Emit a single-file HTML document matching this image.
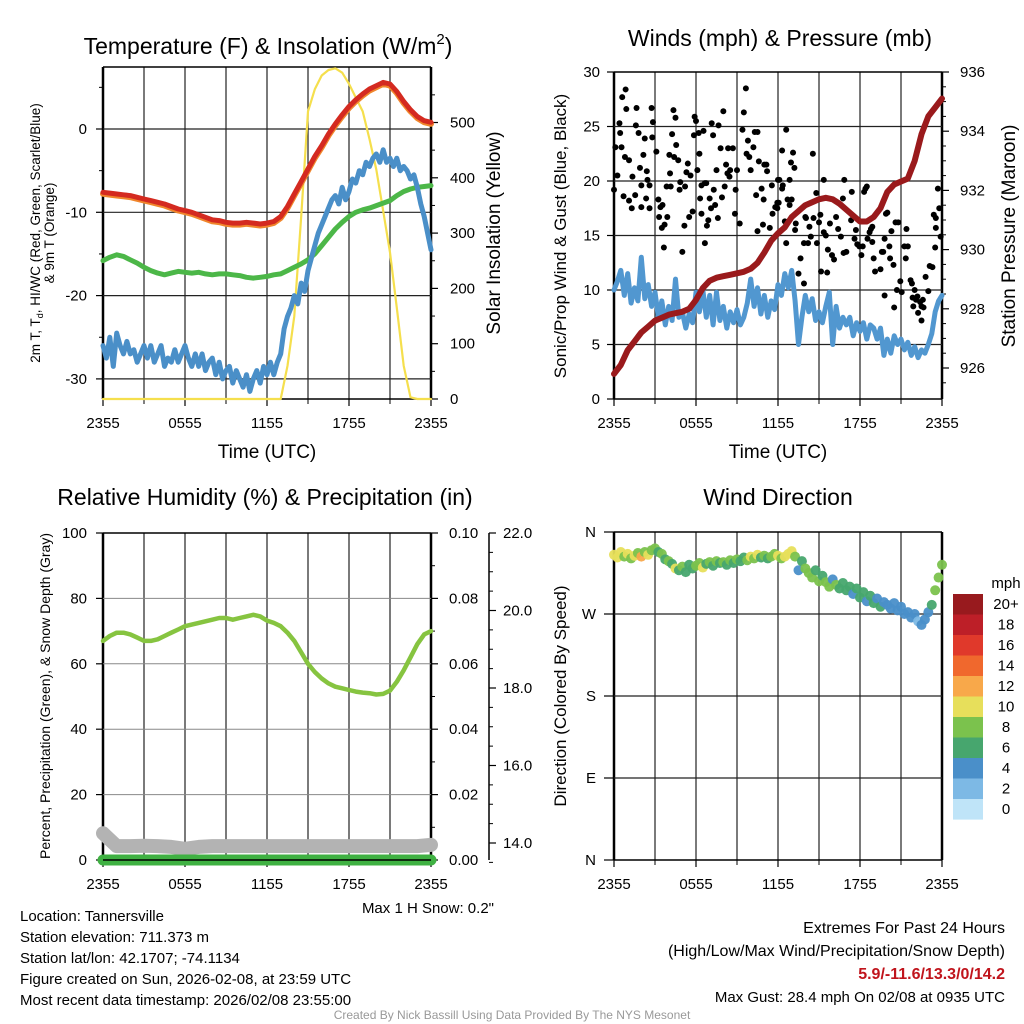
<!DOCTYPE html>
<html><head><meta charset="utf-8"><style>
body{margin:0;background:#fff;}
svg{display:block;font-family:"Liberation Sans",sans-serif;}
</style></head><body>
<svg id="c" width="1024" height="1024" viewBox="0 0 1024 1024"></svg>
<script>
const tickHours=[0,6,12,18,24];
const tickLabels=["2355","0555","1155","1755","2355"];
const airTemp=[-7.6,-7.7,-7.8,-7.9,-8.0,-8.2,-8.4,-8.6,-8.8,-9.0,-9.3,-9.6,-9.8,-10.0,-10.3,-10.6,-10.9,-11.0,-11.2,-11.3,-11.3,-11.2,-11.3,-11.4,-11.3,-11.1,-10.5,-9.3,-7.8,-6.3,-4.8,-3.3,-2.0,-0.6,0.6,1.7,2.7,3.5,4.2,4.8,5.2,5.6,5.4,4.5,3.3,2.3,1.5,1.0,0.8];
const hiwc=[-15.8,-15.4,-15.1,-15.3,-15.7,-16.1,-16.6,-17.0,-17.3,-17.5,-17.3,-17.1,-17.2,-17.3,-17.2,-17.4,-17.5,-17.4,-17.4,-17.5,-17.6,-17.8,-17.9,-17.8,-17.7,-17.5,-17.4,-17.0,-16.6,-16.2,-15.7,-15.0,-14.0,-13.0,-12.0,-11.2,-10.5,-10.0,-9.7,-9.5,-9.2,-8.9,-8.6,-8.0,-7.5,-7.2,-7.0,-6.9,-6.8];
const dewpoint=[-26,-27.5,-25,-28.5,-24.5,-26,-27,-25.5,-27,-26.5,-28,-27,-26,-27.5,-26,-28,-27,-26,-28.5,-27.5,-28,-26.5,-28,-27,-26,-27.5,-28.5,-27,-28.5,-27,-29,-28,-27.5,-29.5,-28,-30,-29,-28.5,-30.5,-29,-30,-31,-29.5,-31.5,-30,-29,-30.5,-28.5,-29.5,-28,-29.5,-28,-27,-24,-22.5,-21.5,-20,-21,-18.5,-19.5,-17,-15.5,-14,-12.5,-11.5,-10.5,-9.5,-8.5,-8,-9,-7,-8.5,-7.5,-6,-6.5,-5,-5.5,-4,-4.5,-3.5,-3,-4,-2.5,-4,-3.5,-4.5,-3.5,-5,-4.5,-5,-6,-5.5,-7,-9,-10.5,-12.5,-14.5];
const insolation=[0,0,0,0,0,0,0,0,0,0,0,0,0,0,0,0,0,0,0,0,0,0,0,0,0,0,0,60,150,330,520,560,585,595,598,590,570,545,520,470,415,340,265,165,60,3,0,0,0];
const windSpeed=[10.0,10.8,11.8,9.5,11.5,8.8,10.2,9.0,13.0,9.2,10.5,8.5,9.8,7.5,9.0,6.8,8.5,7.2,11.0,7.5,8.0,6.5,7.8,7.0,9.8,8.0,10.0,7.5,9.5,6.8,9.8,7.2,8.5,6.5,8.0,7.0,8.2,6.8,7.5,8.8,11.0,8.5,10.2,7.8,9.5,7.5,9.0,8.2,10.5,9.5,11.5,10.2,11.8,9.0,5.0,7.5,9.5,8.0,9.2,7.2,8.0,7.0,8.5,9.8,5.0,8.5,6.5,7.5,6.8,7.5,5.8,7.0,6.2,7.0,5.5,6.8,6.5,5.5,6.5,4.0,5.5,4.2,5.8,5.0,5.5,4.5,5.2,4.0,4.8,3.8,4.5,4.2,5.0,6.0,8.0,9.0,9.5];
const windDir=[335,332,338,333,336,331,334,337,333,338,335,340,342,338,336,330,328,325,320,318,322,316,324,320,323,326,321,325,327,323,328,326,327,324,329,326,330,328,332,329,333,331,335,332,334,331,333,336,334,331,333,336,339,333,318,328,320,315,310,318,306,312,305,300,308,302,298,304,296,300,292,298,288,294,284,290,282,287,278,283,280,276,282,274,278,270,272,266,270,262,258,264,272,280,296,310,324];
const gustHour=[0.85,0.6,0.9,0.4,0.45,0.1,0.55,0.8,1.1,0.25,0.0,0.7,1.1,1.3,1.35,1.55,1.9,2.0,2.15,2.25,1.65,1.6,1.8,2.4,2.45,2.6,2.0,2.35,2.6,2.75,2.85,2.8,3.1,3.25,3.4,3.55,3.3,3.5,3.7,3.9,3.65,3.85,4.15,4.05,4.1,4.35,4.5,4.25,4.55,4.4,4.7,4.8,4.85,5.0,5.15,5.2,5.4,5.5,5.3,5.6,5.75,5.9,6.0,5.85,6.2,6.1,6.25,6.4,6.3,6.4,6.65,6.55,6.75,6.9,6.8,6.65,7.0,7.1,7.15,7.25,7.4,7.5,7.6,7.3,7.65,7.8,7.9,8.0,8.1,8.2,8.35,8.3,8.45,8.5,8.7,8.85,8.9,9.0,9.2,9.4,9.5,9.65,9.7,9.8,9.9,10.0,10.2,10.3,10.5,10.4,10.6,10.8,10.95,11.0,11.15,10.5,10.9,11.2,11.4,11.55,11.6,11.8,11.95,12.0,
12.6,12.3,13.1,12.95,13.2,14.55,12.1,12.85,12.35,12.3,12.05,12.7,13.0,11.95,12.85,12.5,13.3,13.25,12.6,14.0,14.05,14.6,14.8,15.35,15.1,15.0,14.3,14.4,13.9,14.2,14.85,15.35,15.5,15.65,13.65,13.5,13.9,15.15,15.6,15.95,16.1,15.8,16.25,16.4,16.6,16.75,16.85,16.8,17.0,17.4,17.35,17.6,17.7,17.8,17.95,18.1,18.2,18.3,18.4,18.5,18.55,18.7,18.8,18.9,18.9,19.0,19.1,19.5,19.6,19.7,19.8,19.9,20.0,20.15,20.2,20.3,20.45,20.6,20.8,20.95,20.7,19.8,20.5,21.05,21.25,21.4,21.5,21.35,21.7,21.8,22.0,21.85,21.9,22.1,22.2,22.4,22.6,22.5,22.25,22.5,22.65,22.8,23.0,23.1,23.3,23.4,23.55,23.55,23.5,23.7,23.8,23.9];
const gustSpeed=[28.4,27.7,26.6,25.3,24.4,23.1,23.1,22.2,21.9,20.5,19.2,18.6,18.2,17.5,20.4,18.7,21.2,19.6,22.4,23.9,26.7,25.1,24.4,20.9,20.1,19.6,17.6,18.4,17.5,26.7,25.4,24.0,22.7,18.3,17.6,17.8,16.7,15.7,16.0,16.7,13.9,19.5,19.5,22.4,20.7,26.5,25.8,24.3,23.3,22.2,21.9,19.2,19.9,13.5,15.9,19.5,21.6,16.7,20.8,20.5,17.2,25.9,25.5,24.2,24.4,21.0,22.5,19.6,18.4,17.0,19.8,24.6,19.8,16.4,15.9,14.3,18.4,17.5,25.3,24.2,17.8,21.0,16.6,19.2,25.1,23.0,18.5,26.4,19.5,21.5,23.0,20.7,20.4,21.0,23.0,17.0,19.2,21.0,16.1,24.7,26.3,28.5,22.5,23.7,22.2,21.0,23.1,24.5,24.5,18.7,21.8,19.3,18.3,21.5,21.5,15.4,16.0,20.9,15.7,19.6,17.0,17.6,18.0,20.1,
24.7,22.8,22.6,21.7,21.2,22.5,20.1,20.1,19.6,19.3,18.0,18.3,18.3,17.5,17.8,16.3,16.1,15.5,14.3,16.7,16.6,16.6,18.9,20.1,16.9,16.2,15.8,14.9,14.3,14.3,14.3,15.3,15.0,13.7,12.9,11.5,10.6,11.7,11.6,13.2,12.8,16.1,16.7,15.6,14.9,18.4,20.1,13.4,13.5,19.0,16.4,14.7,15.5,14.2,14.0,13.2,14.0,19.0,19.3,19.5,14.7,15.3,15.6,15.8,14.4,12.9,11.7,11.9,13.5,13.5,14.7,17.0,17.1,14.0,12.9,15.4,12.3,16.2,16.2,10.8,10.0,9.5,8.4,9.8,14.0,15.6,14.0,12.9,10.9,10.6,10.0,9.3,8.5,9.1,9.4,8.9,9.1,8.5,7.9,7.2,8.4,11.2,9.9,12.2,12.1,16.9,16.6,15.7,13.9,19.3,17.5,14.9];
const pressure=[925.8,926.1,926.6,926.9,927.2,927.4,927.6,927.7,927.8,927.85,927.9,928.0,928.3,928.7,928.95,929.05,929.1,929.15,929.2,929.25,929.35,929.55,929.9,930.3,930.55,930.75,931.1,931.3,931.5,931.6,931.7,931.75,931.7,931.55,931.35,931.15,930.95,930.95,931.1,931.4,931.95,932.2,932.3,932.4,933.0,933.9,934.5,934.8,935.1];
const rh=[67,68.5,69.5,69.5,69,68,67,67,67.5,68.5,69.5,70.5,71.5,72,72.5,73,73.5,74,74,73.5,74,74.5,75,74.5,73.2,72.5,71.5,69.5,67,63.5,60,57.5,55.5,54,53,52.5,52,51.5,51.2,51,50.6,50.8,51.8,54.5,58,62,66,69,70];
const snowDepth=[14.25,13.92,13.92,13.93,13.92,13.9,13.85,13.9,13.92,13.92,13.92,13.92,13.92,13.92,13.92,13.92,13.92,13.92,13.92,13.92,13.92,13.92,13.92,13.92,13.95];
const precip=[0,0,0,0,0,0,0,0,0,0,0,0,0,0,0,0,0,0,0,0,0,0,0,0,0];
const cbLabels=["20+","18","16","14","12","10","8","6","4","2","0"];
const cbColors=["#981a1e","#bd1f28","#e0392b","#f0682d","#f8a84a","#e7df5b","#7bc24d","#47a66e","#4a8fc9","#7db9e5","#bfe4f8"];

const NS="http://www.w3.org/2000/svg";
const svg=document.getElementById('c');
function el(tag,attrs,parent){const e=document.createElementNS(NS,tag);for(const k in attrs)e.setAttribute(k,attrs[k]);(parent||svg).appendChild(e);return e;}
function txt(s,x,y,size,anchor,parent,extra){const t=el('text',Object.assign({x:x,y:y,'font-size':size,'text-anchor':anchor||'middle',fill:'#000'},extra||{}),parent);t.textContent=s;return t;}
function xs(P,h){return P.L+h/24*(P.R-P.L);}
function line(x1,y1,x2,y2,c,w,p){return el('line',{x1:x1,y1:y1,x2:x2,y2:y2,stroke:c,'stroke-width':w},p);}
function path(P,arr,step,yf,c,w,p){let d='';arr.forEach((v,i)=>{d+=(i?'L':'M')+xs(P,i*step).toFixed(1)+','+yf(v).toFixed(1);});return el('path',{d:d,fill:'none',stroke:c,'stroke-width':w,'stroke-linejoin':'round','stroke-linecap':'round'},p);}

const P1={L:103,R:431,T:67,B:399},P2={L:614,R:942,T:72,B:399},P3={L:103,R:431,T:533,B:860},P4={L:614,R:942,T:532,B:860};
const y1L=v=>129-v*8.33, y1R=v=>399-v*0.553;
const y2L=v=>399-v*10.9, y2R=v=>368-(v-926)*29.6;
const y3=v=>860-v*3.27, y3S=v=>533+(22-v)*38.75, y3P=v=>860-v*3270;
const y4=v=>860-v/360*328;

function frame(P,name,vgrid){
  const g=el('g',{});
  
  
  if(vgrid){for(let h=3;h<24;h+=3){const l=line(xs(P,h),P.T,xs(P,h),P.B,'#222',1.2,g);}}
  line(P.L,P.T,P.R,P.T,'#000',1.5,g);line(P.L,P.B,P.R,P.B,'#000',1.5,g);
  line(P.L,P.T,P.L,P.B,'#000',2.5,g);line(P.R,P.T,P.R,P.B,'#000',2.5,g);
  tickHours.forEach((h,i)=>{line(xs(P,h),P.B,xs(P,h),P.B+7,'#000',1.2,g);const t=txt(tickLabels[i],xs(P,h),P.B+29,15,'middle',g);});
  for(let h=3;h<24;h+=6)line(xs(P,h),P.B,xs(P,h),P.B+5,'#000',1,g);
  return g;
}

// Panel 1
const g1=frame(P1,'temperature-panel',true);
[0,-10,-20,-30].forEach(v=>{line(P1.L,y1L(v),P1.R,y1L(v),'#222',1.2,g1);line(P1.L-7,y1L(v),P1.L,y1L(v),'#000',1.2,g1);txt(String(v),P1.L-16,y1L(v)+5,15,'end',g1);});
[5,-5,-15,-25].forEach(v=>line(P1.L-4,y1L(v),P1.L,y1L(v),'#000',1,g1));
[0,100,200,300,400,500].forEach(v=>{line(P1.R,y1R(v),P1.R+7,y1R(v),'#000',1.2,g1);txt(String(v),P1.R+19,y1R(v)+5,15,'start',g1);});
[50,150,250,350,450,550].forEach(v=>line(P1.R,y1R(v),P1.R+4,y1R(v),'#000',1,g1));
const s1=path(P1,insolation,0.5,y1R,'#f5df4d',2.2,g1);
const s2=path(P1,hiwc,0.5,y1L,'#4cb748',5,g1);
const s3=path(P1,dewpoint,0.25,y1L,'#4a8fc8',5,g1);
const s4=path(P1,airTemp,0.5,v=>y1L(v)+1.5,'#f0862c',6,g1);
const s5=path(P1,airTemp,0.5,y1L,'#d42a20',5,g1);

// Panel 2
const g2=frame(P2,'winds-panel',true);
[0,5,10,15,20,25,30].forEach(v=>{if(v>0&&v<30)line(P2.L,y2L(v),P2.R,y2L(v),'#222',1.2,g2);line(P2.L-7,y2L(v),P2.L,y2L(v),'#000',1.2,g2);txt(String(v),P2.L-14,y2L(v)+5,15,'end',g2);});
[926,928,930,932,934,936].forEach(v=>{line(P2.R,y2R(v),P2.R+7,y2R(v),'#000',1.2,g2);txt(String(v),P2.R+18,y2R(v)+5,15,'start',g2);});
for(let v=925.5;v<936;v+=0.5){if(v%2)line(P2.R,y2R(v),P2.R+4,y2R(v),'#000',1,g2);}
const w1=path(P2,windSpeed,0.25,y2L,'#5197d0',5,g2);
gustHour.forEach((h,i)=>{const c=el('circle',{cx:xs(P2,h),cy:y2L(gustSpeed[i]),r:3,fill:'#000'},g2);

});
const pr=path(P2,pressure,0.5,y2R,'#9a1a1c',6,g2);

// Panel 3
const g3=frame(P3,'humidity-panel',true);
[0,20,40,60,80,100].forEach(v=>{if(v>0&&v<100)line(P3.L,y3(v),P3.R,y3(v),'#888',1,g3);line(P3.L-7,y3(v),P3.L,y3(v),'#000',1.2,g3);txt(String(v),P3.L-16,y3(v)+5,15,'end',g3);});
[0,0.02,0.04,0.06,0.08,0.10].forEach(v=>{line(P3.R,y3P(v),P3.R+7,y3P(v),'#000',1.2,g3);txt(v.toFixed(2),P3.R+18,y3P(v)+5,15,'start',g3);});
for(let v=0.01;v<0.1;v+=0.02)line(P3.R,y3P(v),P3.R+4,y3P(v),'#000',1,g3);
line(489,533,489,860,'#000',1.5,g3);
[14,16,18,20,22].forEach(v=>{line(489,y3S(v),496,y3S(v),'#000',1.2,g3);txt(v.toFixed(1),503,y3S(v)+5,15,'start',g3);});
for(let v=13.5;v<22;v+=0.5){if(v%2)line(489,y3S(v),493,y3S(v),'#000',1,g3);}
const sd=path(P3,snowDepth,1,y3S,'#b3b3b3',14,g3);
const pp=path(P3,precip,1,y3P,'#3fb142',11,g3);
line(P3.L,P3.B,P3.R,P3.B,'#000',1.5,g3);
const rl=path(P3,rh,0.5,y3,'#86c440',4.5,g3);

// Panel 4
const g4=frame(P4,'wind-direction-panel',true);
[[0,'N'],[90,'E'],[180,'S'],[270,'W'],[360,'N']].forEach(([v,l])=>{if(v>0&&v<360)line(P4.L,y4(v),P4.R,y4(v),'#222',1.2,g4);line(P4.L-10,y4(v),P4.L,y4(v),'#000',1.2,g4);txt(l,P4.L-18,y4(v)+5,15,'end',g4);});
function spColor(s){let i=Math.floor(s/2);if(i>10)i=10;if(i<0)i=0;return cbColors[10-i];}
windDir.forEach((d,i)=>{const c=el('circle',{cx:xs(P4,i*0.25),cy:y4(d),r:5,fill:spColor(windSpeed[i]),opacity:0.95},g4);

});
const cb=el('g',{});


txt('mph',1006,588,15,'middle',cb);
cbColors.forEach((c,i)=>{el('rect',{x:953,y:594+i*20.5,width:30,height:20.6,fill:c},cb);txt(cbLabels[i],1006,609+i*20.5,15,'middle',cb);});

// Titles & labels
function lab(s,x,y,size,rot,name,extra){const t=txt(s,x,y,size,'middle',svg,Object.assign(rot?{transform:`rotate(${rot} ${x} ${y})`}:{},extra||{}));return t;}
const tt=lab('',268,54,23,0,'temperature-title');tt.innerHTML='Temperature (F) &amp; Insolation (W/m<tspan font-size="15" dy="-10">2</tspan><tspan dy="10">)</tspan>';
lab('Winds (mph) & Pressure (mb)',780,46,23,0,'winds-title');
lab('Relative Humidity (%) & Precipitation (in)',265,505,23,0,'humidity-title');
lab('Wind Direction',778,505,23,0,'direction-title');
lab('Time (UTC)',267,458,19,0,'x-axis-title');
lab('Time (UTC)',778,458,19,0,'x-axis-title');
const yl=lab('',40,233,13.5,-90,'temperature-y-title');yl.innerHTML='2m T, T<tspan font-size="9" dy="3">d</tspan><tspan dy="-3">, HI/WC (Red, Green, Scarlet/Blue)</tspan>';
lab('& 9m T (Orange)',54,233,13.5,-90,'temperature-y-title-2');
lab('Solar Insolation (Yellow)',500,233,19,-90,'insolation-y-title');
lab('Sonic/Prop Wind & Gust (Blue, Black)',566,236,17,-90,'wind-y-title');
lab('Station Pressure (Maroon)',1015,236,19,-90,'pressure-y-title');
lab('Percent, Precipitation (Green), & Snow Depth (Gray)',50,696,14,-90,'humidity-y-title');
lab('Direction (Colored By Speed)',566,696,17,-90,'direction-y-title');
const ms=lab('Max 1 H Snow: 0.2"',494,913,15,0,'max-snow-note');ms.setAttribute('text-anchor','end');
['Location: Tannersville','Station elevation: 711.373 m','Station lat/lon: 42.1707; -74.1134','Figure created on Sun, 2026-02-08, at 23:59 UTC','Most recent data timestamp: 2026/02/08 23:55:00'].forEach((s,i)=>{const t=txt(s,20,921+i*21,15,'start');});
[['Extremes For Past 24 Hours',933,16,'#000'],['(High/Low/Max Wind/Precipitation/Snow Depth)',956,16,'#000'],['5.9/-11.6/13.3/0/14.2',979,16,'#c0141c'],['Max Gust: 28.4 mph On 02/08 at 0935 UTC',1002,15,'#000']].forEach(([s,y,f,c],i)=>{const t=txt(s,1005,y,f,'end',svg,{fill:c});if(i==2)t.setAttribute('font-weight','bold');});
lab('Created By Nick Bassill Using Data Provided By The NYS Mesonet',512,1019,12,0,'credit-footer',{fill:'#999'});
</script>
</body></html>
